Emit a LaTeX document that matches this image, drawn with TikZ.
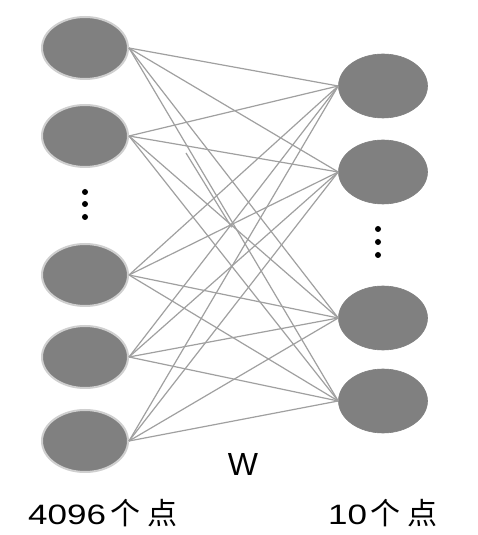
\documentclass[tikz,border=0pt]{standalone}
\usepackage{fontspec}
\usetikzlibrary{shapes.geometric,calc}
\setmainfont{Liberation Sans}
\newfontfamily\digitfont[FakeStretch=1.25]{Liberation Sans}
\newfontfamily\cjk{Noto Sans CJK SC}
\begin{document}
\begin{tikzpicture}[x=1pt,y=1pt,
  innode/.style={ellipse,fill=nodegray,draw=bordergray,line width=2pt,minimum width=86pt,minimum height=62pt,inner sep=0pt},
  outnode/.style={ellipse,fill=nodegray,draw=nodegray,line width=0.6pt,minimum width=89pt,minimum height=64pt,inner sep=0pt},
  link/.style={draw=linegray,line width=1.2pt},
  dotmark/.style={circle,fill=black,inner sep=0pt,minimum size=6pt}]
\definecolor{nodegray}{HTML}{808080}
\definecolor{bordergray}{HTML}{CFCFCF}
\definecolor{linegray}{HTML}{A0A0A0}
\useasboundingbox (0,0) rectangle (478,535);
\fill[white] (0,0) rectangle (478,535);
% left layer
\node[innode] (L1) at (85,487) {};
\node[innode] (L2) at (85,399) {};
\node[innode] (L3) at (85,260) {};
\node[innode] (L4) at (85,178) {};
\node[innode] (L5) at (85,94) {};
% right layer
\node[outnode] (R1) at (383,449) {};
\node[outnode] (R2) at (383,363) {};
\node[outnode] (R3) at (383,217) {};
\node[outnode] (R4) at (383,134) {};
% connections
\foreach \l in {L1,L2,L3,L4,L5}{
  \foreach \r in {R1,R2,R3,R4}{
    \draw[link] (\l.east) -- (\r.west);
  }
}
\coordinate (stray) at (186,382);
\draw[link] (stray) -- ($(stray)!0.3!(R4.west)$);
% dots
\node[dotmark] (ld1) at (85,343) {};
\node[dotmark] (ld2) at (85,331) {};
\node[dotmark] (ld3) at (85,318) {};
\node[dotmark] (rd1) at (378,306) {};
\node[dotmark] (rd2) at (378,293) {};
\node[dotmark] (rd3) at (378,280) {};
% labels
\node[inner sep=0pt,font=\fontsize{32}{36}\selectfont] (Wl) at (243,71) {W};
\node[inner sep=0pt,anchor=base west] (inl) at (28,10) {\fontsize{28}{32}\selectfont\digitfont 4096\hspace{4pt}\cjk\fontsize{30}{32}\selectfont 个\hspace{7pt}点};
\node[inner sep=0pt,anchor=base west] (outl) at (328,10) {\fontsize{28}{32}\selectfont\digitfont 10\hspace{3pt}\cjk\fontsize{30}{32}\selectfont 个\hspace{7pt}点};
\end{tikzpicture}
\end{document}
